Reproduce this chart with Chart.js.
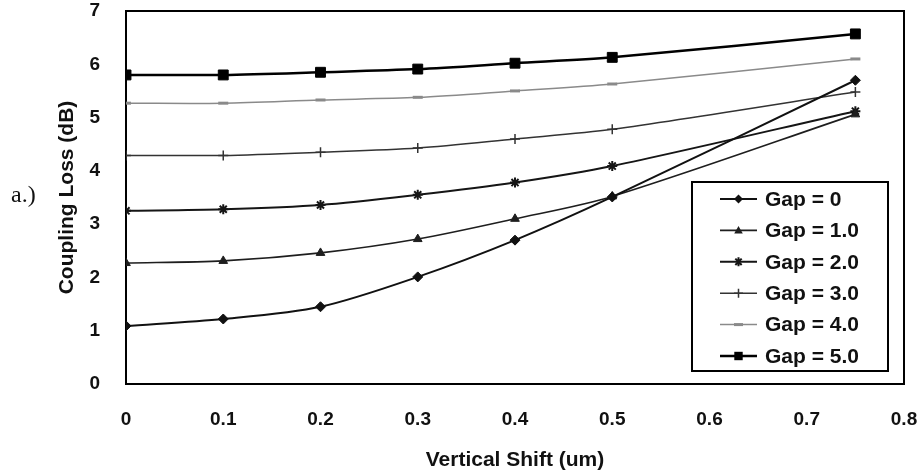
<!DOCTYPE html>
<html>
<head>
<meta charset="utf-8">
<script src="https://cdn.jsdelivr.net/npm/chart.js@4/dist/chart.umd.min.js"></script>
<style>
  html, body { margin: 0; padding: 0; background: #fff; }
  #wrap { position: relative; width: 921px; height: 475px; }
  #panel { position: absolute; left: 11px; top: 181px; font: 24px "Liberation Serif", "DejaVu Serif", serif; color: #111; }
</style>
</head>
<body>
<div id="wrap">
  <canvas id="c" width="921" height="475"></canvas>
  <div id="panel">a.)</div>
</div>
<script>
// ---- data ----
const verticalShift = [0, 0.1, 0.2, 0.3, 0.4, 0.5, 0.75];
const gap0 = [1.09, 1.22, 1.45, 2.01, 2.70, 3.51, 5.70];
const gap1 = [2.27, 2.31, 2.46, 2.72, 3.10, 3.52, 5.06];
const gap2 = [3.25, 3.28, 3.36, 3.55, 3.78, 4.09, 5.12];
const gap3 = [4.29, 4.29, 4.35, 4.43, 4.60, 4.78, 5.48];
const gap4 = [5.27, 5.27, 5.33, 5.38, 5.50, 5.63, 6.10];
const gap5 = [5.80, 5.80, 5.85, 5.91, 6.02, 6.13, 6.57];
const seriesLabels = ['Gap = 0', 'Gap = 1.0', 'Gap = 2.0', 'Gap = 3.0', 'Gap = 4.0', 'Gap = 5.0'];
const xTickLabels = ['0', '0.1', '0.2', '0.3', '0.4', '0.5', '0.6', '0.7', '0.8'];
const yTickLabels = ['0', '1', '2', '3', '4', '5', '6', '7'];

const seriesValues = [gap0, gap1, gap2, gap3, gap4, gap5];
const styles = [
  { color: '#111', width: 2,   point: 'rectRot',  radius: 5, pbw: 1 },
  { color: '#1e1e1e', width: 1.6, point: 'triangle', radius: 5, pbw: 1 },
  { color: '#151515', width: 2,   point: 'star',     radius: 5, pbw: 2 },
  { color: '#333', width: 1.5, point: 'cross',    radius: 5, pbw: 1.5 },
  { color: '#8a8a8a', width: 1.5, point: 'line',     radius: 5, pbw: 3 },
  { color: '#000', width: 2.5, point: 'rect',     radius: 7, pbw: 1 }
];

const datasets = seriesValues.map((vals, i) => ({
  label: seriesLabels[i],
  data: vals.map((v, j) => ({ x: verticalShift[j], y: v })),
  borderColor: styles[i].color,
  backgroundColor: styles[i].color,
  borderWidth: styles[i].width,
  pointStyle: styles[i].point,
  pointRadius: styles[i].radius,
  pointBorderWidth: styles[i].pbw,
  pointBorderColor: styles[i].color,
  pointBackgroundColor: styles[i].color,
  tension: 0.3
}));

function drawMarker(ctx, style, x, y, r, color, bw) {
  ctx.save();
  ctx.fillStyle = color; ctx.strokeStyle = color; ctx.lineWidth = bw;
  ctx.beginPath();
  const s = Math.SQRT1_2 * r;
  switch (style) {
    case 'rectRot':
      ctx.moveTo(x, y - r); ctx.lineTo(x + r, y); ctx.lineTo(x, y + r); ctx.lineTo(x - r, y); ctx.closePath(); ctx.fill(); break;
    case 'rect':
      ctx.rect(x - s, y - s, 2 * s, 2 * s); ctx.fill(); break;
    case 'triangle':
      ctx.moveTo(x, y - r); ctx.lineTo(x + r * 0.95, y + r * 0.7); ctx.lineTo(x - r * 0.95, y + r * 0.7); ctx.closePath(); ctx.fill(); break;
    case 'star':
      ctx.moveTo(x - s, y - s); ctx.lineTo(x + s, y + s); ctx.moveTo(x + s, y - s); ctx.lineTo(x - s, y + s);
      ctx.moveTo(x, y - r); ctx.lineTo(x, y + r); ctx.stroke(); break;
    case 'cross':
      ctx.moveTo(x, y - r); ctx.lineTo(x, y + r); ctx.moveTo(x - r, y); ctx.lineTo(x + r, y); ctx.stroke(); break;
    case 'line':
      ctx.moveTo(x - r, y); ctx.lineTo(x + r, y); ctx.stroke(); break;
  }
  ctx.restore();
}

const framePlugin = {
  id: 'frame',
  beforeDatasetsDraw(chart) {
    const { ctx, chartArea: a } = chart;
    ctx.save();
    ctx.strokeStyle = '#000';
    ctx.lineWidth = 2;
    ctx.strokeRect(a.left, a.top, a.right - a.left, a.bottom - a.top);
    ctx.restore();
  },
  afterDraw(chart) {
    const ctx = chart.ctx;
    const box = { x: 692, y: 182, w: 196, h: 189 };
    ctx.save();
    ctx.fillStyle = '#fff';
    ctx.fillRect(box.x, box.y, box.w, box.h);
    ctx.strokeStyle = '#000';
    ctx.lineWidth = 2;
    ctx.strokeRect(box.x, box.y, box.w, box.h);
    ctx.font = 'bold 21px "Liberation Sans", Arial, sans-serif';
    ctx.textBaseline = 'middle';
    ctx.textAlign = 'left';
    chart.data.datasets.forEach((ds, i) => {
      const cy = 199 + i * 31.4;
      ctx.beginPath();
      ctx.strokeStyle = ds.borderColor;
      ctx.lineWidth = ds.borderWidth;
      ctx.moveTo(720, cy); ctx.lineTo(757, cy); ctx.stroke();
      drawMarker(ctx, ds.pointStyle, 738.5, cy, ds.pointRadius * (ds.pointStyle === 'rect' ? 0.85 : 0.9), ds.pointBorderColor, ds.pointBorderWidth);
      ctx.fillStyle = '#111';
      ctx.fillText(ds.label, 765, cy + 1);
    });
    ctx.restore();
  }
};

function zeroPad(s) { s.paddingTop = 0; s.paddingBottom = 0; s.paddingLeft = 0; s.paddingRight = 0; }

new Chart(document.getElementById('c'), {
  type: 'line',
  data: { datasets },
  plugins: [framePlugin],
  options: {
    responsive: false,
    animation: false,
    layout: { padding: { top: 11, right: 17, left: 0, bottom: 0 } },
    plugins: { legend: { display: false }, tooltip: { enabled: false } },
    scales: {
      x: {
        type: 'linear', min: 0, max: 0.8,
        grid: { display: false },
        border: { display: false },
        ticks: {
          stepSize: 0.1, padding: 16, color: '#111',
          font: { family: '"Liberation Sans", Arial, sans-serif', size: 19, weight: 'bold' },
          callback: (v, i) => xTickLabels[i]
        },
        title: {
          display: true, text: 'Vertical Shift (um)', color: '#111',
          font: { family: '"Liberation Sans", Arial, sans-serif', size: 21, weight: 'bold' },
          padding: { top: 0, bottom: 2 }
        },
        afterFit: (s) => { s.height = 91; zeroPad(s); }
      },
      y: {
        min: 0, max: 7,
        grid: { display: false },
        border: { display: false },
        ticks: {
          stepSize: 1, padding: 18, color: '#111',
          font: { family: '"Liberation Sans", Arial, sans-serif', size: 19, weight: 'bold' },
          callback: (v, i) => yTickLabels[i]
        },
        title: {
          display: true, text: 'Coupling Loss (dB)', color: '#111',
          font: { family: '"Liberation Sans", Arial, sans-serif', size: 21, weight: 'bold' },
          padding: { top: 55, bottom: 0 }
        },
        afterFit: (s) => { s.width = 126; zeroPad(s); }
      }
    }
  }
});
</script>
</body>
</html>
